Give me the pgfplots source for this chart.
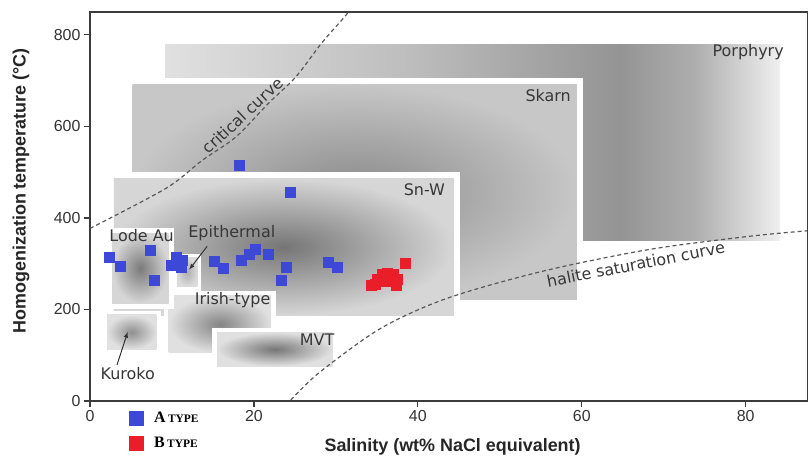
\documentclass[border=0pt]{standalone}
\usepackage{pgfplots}
\pgfplotsset{compat=1.18}
\usepackage{fontspec}
\setmainfont{Liberation Sans}
\newfontfamily\fieldfont{DejaVu Sans}
\newfontfamily\legfont{Liberation Serif}
\definecolor{atype}{RGB}{62,72,214}
\definecolor{btype}{RGB}{234,30,40}
\definecolor{axisgray}{RGB}{60,60,60}
\definecolor{labgray}{RGB}{55,55,55}

% porphyry field: darkest just right of the skarn box (path spans 25bp..75bp)
\pgfdeclarehorizontalshading{porph}{100bp}{color(0bp)=(black!12); color(25bp)=(black!12);
  color(45bp)=(black!26); color(62bp)=(black!42); color(68bp)=(black!32);
  color(75bp)=(black!6); color(100bp)=(black!6)}

\pgfplotsset{
  rim/.style={draw=none, fill=white, forget plot},
  field/.style 2 args={draw=none, forget plot, shading=radial, inner color=black!#1, outer color=black!#2},
  curve/.style={black!65, line width=1.2bp, dash pattern=on 4bp off 3bp, smooth, forget plot},
}
\tikzset{flabel/.style={font=\fieldfont\fontsize{16}{18}\selectfont, text=labgray}}

\begin{document}
\begin{tikzpicture}
\begin{axis}[
    width=718bp, height=389bp, scale only axis,
    xmin=0, xmax=87.6, ymin=0, ymax=850,
    xtick={0,20,...,80}, ytick={0,200,...,800},
    tick align=outside, xtick pos=bottom, ytick pos=left,
    major tick length=6bp,
    axis line style={axisgray, line width=1.3bp},
    tick style={axisgray, line width=1.2bp},
    ticklabel style={font=\fontsize{16}{18}\selectfont, text=black!80},
    /pgf/number format/assume math mode=true,
    xlabel={Salinity (wt\% NaCl equivalent)},
    ylabel={Homogenization temperature (\textdegree C)},
    label style={font=\bfseries\fontsize{18}{20}\selectfont, text=black!85},
    xlabel style={at={(axis description cs:0.505,-0.118)}, anchor=center},
    ylabel style={at={(axis description cs:-0.096,0.54)}, anchor=center},
    axis on top,
    legend style={at={(axis description cs:0.05,-0.017)}, anchor=north west,
        draw=none, fill=none, font=\legfont\bfseries, row sep=9bp,
        cells={anchor=west}},
    legend image post style={mark size=7bp},
]

% ore deposit fields (back to front)
% Porphyry
\addplot[rim] coordinates {(8.4,335) (85,335) (85,795) (8.4,795)} -- cycle;
\addplot[draw=none, forget plot, shading=porph] coordinates {(9.2,350) (84.2,350) (84.2,780) (9.2,780)} -- cycle;
% Skarn
\addplot[rim] coordinates {(4.4,208) (60.2,208) (60.2,706) (4.4,706)} -- cycle;
\addplot[field={46}{22}] coordinates {(5.2,222) (59.4,222) (59.4,692) (5.2,692)} -- cycle;
% Sn-W
\addplot[rim] coordinates {(2.1,173) (45.2,173) (45.2,500) (2.1,500)} -- cycle;
\addplot[field={54}{16}] coordinates {(2.9,187) (44.4,187) (44.4,486) (2.9,486)} -- cycle;
% Irish-type
\addplot[rim] coordinates {(9,94) (22.7,94) (22.7,241) (9,241)} -- cycle;
\addplot[field={48}{12}] coordinates {(9.6,105) (22.1,105) (22.1,230) (9.6,230)} -- cycle;
% Kuroko
\addplot[rim] coordinates {(1.5,103) (8.7,103) (8.7,197) (1.5,197)} -- cycle;
\addplot[field={44}{12}] coordinates {(2.1,113) (8.1,113) (8.1,188) (2.1,188)} -- cycle;
% MVT
\addplot[rim] coordinates {(14.9,66) (30.2,66) (30.2,160) (14.9,160)} -- cycle;
\addplot[field={54}{12}] coordinates {(15.5,76) (29.6,76) (29.6,150) (15.5,150)} -- cycle;
% Epithermal
\addplot[rim] coordinates {(10.2,241) (13.5,241) (13.5,322) (10.2,322)} -- cycle;
\addplot[field={32}{14}] coordinates {(10.6,250) (13.1,250) (13.1,313) (10.6,313)} -- cycle;
% Lode Au
\addplot[rim] coordinates {(2.1,202) (10.2,202) (10.2,377) (2.1,377)} -- cycle;
\addplot[field={52}{16}] coordinates {(2.7,214) (9.6,214) (9.6,365) (2.7,365)} -- cycle;

% critical curve and halite saturation curve
\addplot[curve] coordinates {(0,377) (9.3,465) (13.7,526) (17.8,577) (21.8,651)
    (25.1,708) (28.3,783) (31.0,838) (31.5,850)};
\addplot[curve] coordinates {(24.5,2) (27.9,61) (35.4,158) (43.5,224) (55.1,283)
    (68.2,331) (80.5,360) (87.6,372)};

% fluid inclusion data
\addplot[only marks, mark=square*, mark size=5bp, color=atype]
coordinates {(18.2,515) (24.4,456) (2.3,314) (3.7,294) (7.4,329) (7.8,265)
             (9.9,296) (10.5,314) (11.2,307) (11.1,292) (15.1,305) (16.3,290)
             (18.5,307) (19.4,320) (20.2,331) (21.7,320) (23.9,292) (23.3,263)
             (29.1,303) (30.1,292)};
\addlegendentry{\hspace{9bp}{\fontsize{16}{18}\selectfont A} {\fontsize{11.5}{13}\selectfont TYPE}}

\addplot[only marks, mark=square*, mark size=5bp, color=btype]
coordinates {(38.4,300) (34.3,254) (35.0,266) (35.6,276) (36.3,280) (37.0,277)
             (35.8,262) (36.5,262) (37.3,252) (37.5,266) (34.8,256)};
\addlegendentry{\hspace{9bp}{\fontsize{16}{18}\selectfont B} {\fontsize{11.5}{13}\selectfont TYPE}}

% labels
\node[flabel] at (axis cs:80.3,763) {Porphyry};
\node[flabel] at (axis cs:55.9,667) {Skarn};
\node[flabel] at (axis cs:40.8,461) {Sn-W};
\node[flabel] at (axis cs:6.3,361) {Lode Au};
\node[flabel] at (axis cs:17.3,367) {Epithermal};
\node[flabel] at (axis cs:17.4,221) {Irish-type};
\node[flabel] at (axis cs:27.7,133) {MVT};
\node[flabel] at (axis cs:4.6,59) {Kuroko};
\node[flabel, rotate=43] at (axis cs:18.6,624) {critical curve};
\node[flabel, rotate=11] at (axis cs:66.6,299) {halite saturation curve};
\draw[-latex, black!80, line width=1bp] (axis cs:14.3,338) -- (axis cs:12.1,287);
\draw[-latex, black!80, line width=1bp] (axis cs:3.3,79) -- (axis cs:4.6,151);
\end{axis}
\pgfresetboundingbox
\path ([shift={(-90bp,-55bp)}]current axis.south west) rectangle ([shift={(0bp,12bp)}]current axis.north east);
\end{tikzpicture}
\end{document}
